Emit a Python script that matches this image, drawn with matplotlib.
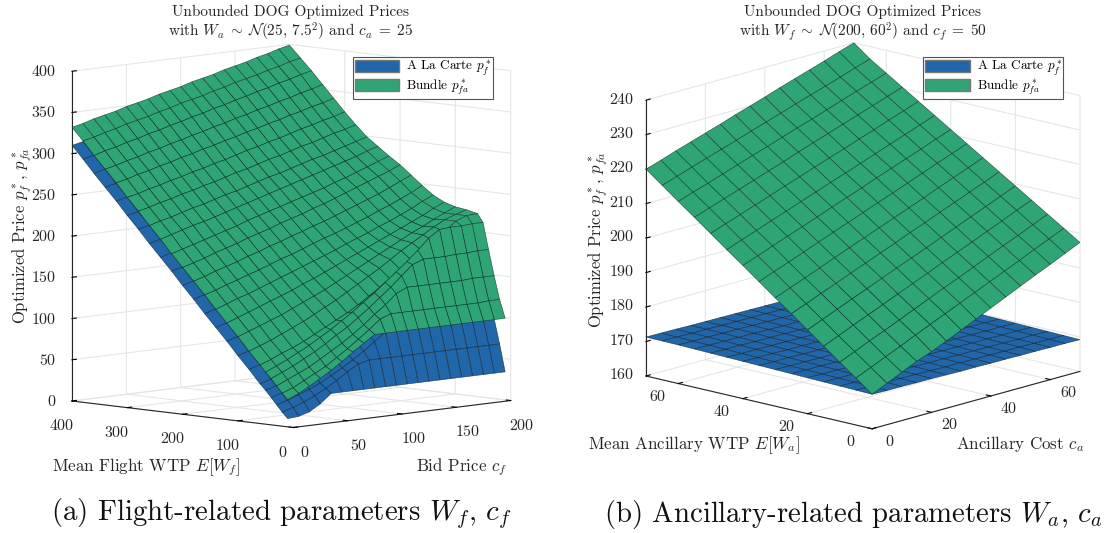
import numpy as np
import matplotlib
matplotlib.use("Agg")
import matplotlib.pyplot as plt
from matplotlib.patches import Patch
from mpl_toolkits.mplot3d import proj3d

plt.rcParams['font.family'] = ['cmr10', 'DejaVu Sans']
plt.rcParams['mathtext.fontset'] = 'cm'
plt.rcParams['axes.unicode_minus'] = False
plt.rcParams['axes.formatter.use_mathtext'] = True

BLUE = '#2166a8'
GREEN = '#2fa474'

wtp_f = [10,20,30,40,50,60,80,100,120,140,160,180,200,220,240,260,280,300,320,340,360,380,400]
bid_c = [0,10,20,30,40,50,60,70,80,90,100,110,120,130,140,150,160,170,180,190,200]

bundle_f = [
[33,39,46,54,62,71,81,90,99,99,99,99,99,99,99,99,99,99,99,99,99],
[40,45,52,59,66,75,84,94,104,115,120,120,120,120,120,120,120,120,120,121,121],
[48,54,60,66,74,82,90,99,109,120,130,142,148,148,148,148,148,148,149,149,149],
[56,62,68,75,82,90,99,107,117,127,138,149,161,173,178,178,178,179,179,180,180],
[63,69,75,82,89,97,105,114,123,133,143,154,165,176,188,201,210,211,211,212,212],
[71,76,82,87,93,100,107,114,121,129,138,147,155,164,174,184,195,205,216,221,222],
[86,91,96,102,108,114,121,128,135,143,151,159,167,176,185,193,201,209,216,221,225],
[102,107,112,117,122,128,134,140,146,153,160,167,174,181,188,195,202,208,215,221,227],
[117,122,127,132,137,142,147,153,158,164,170,176,182,188,194,200,206,212,218,225,231],
[132,137,142,146,151,156,161,166,171,176,181,186,192,197,202,208,213,219,225,232,238],
[148,152,157,161,166,170,175,180,184,189,194,199,203,208,213,218,224,229,235,241,248],
[163,167,172,176,180,185,189,194,198,203,207,212,216,221,226,231,236,241,247,253,259],
[178,182,186,191,195,199,204,208,212,217,221,225,230,234,239,244,249,254,259,264,270],
[193,197,201,205,209,213,217,222,226,230,234,238,242,246,250,255,259,264,269,274,279],
[209,213,217,221,224,228,232,236,240,244,248,252,256,260,264,268,272,276,280,285,289],
[224,228,231,235,239,242,246,250,253,257,261,265,268,272,276,280,283,287,291,295,299],
[240,243,247,250,254,257,261,264,268,272,275,279,283,286,290,294,297,301,305,308,312],
[255,258,262,265,269,272,276,279,283,286,290,294,297,301,304,308,312,315,319,322,326],
[271,274,278,281,285,288,292,295,299,302,306,309,313,316,320,323,327,330,334,337,341],
[286,289,293,296,300,303,307,310,314,317,321,324,328,331,335,338,342,345,349,352,356],
[301,305,308,312,315,319,322,326,329,333,336,340,343,347,350,354,357,361,364,368,371],
[317,320,324,327,331,334,337,341,344,348,351,354,358,361,365,368,371,375,378,382,385],
[332,335,339,342,345,349,352,355,359,362,365,369,372,375,379,382,385,389,392,396,399],
]

carte_f = [
[10,11,15,23,34,34,34,34,34,34,34,34,34,34,34,34,34,34,34,34,34],
[17,21,26,32,39,47,56,64,67,67,67,67,67,67,67,67,67,67,67,67,67],
[25,29,34,39,45,52,60,68,77,87,97,97,97,97,97,97,97,97,97,97,97],
[33,37,42,48,54,60,68,76,85,94,105,115,125,125,125,125,125,125,125,125,125],
[41,45,50,55,61,68,75,83,92,101,111,121,132,143,155,155,155,155,155,155,155],
[48,52,57,62,67,73,80,87,94,102,110,119,128,137,147,157,168,178,185,186,186],
[64,68,72,77,82,88,94,100,107,114,122,130,138,147,156,164,172,180,187,192,195],
[79,83,87,92,97,102,108,113,119,126,133,140,147,154,161,168,175,181,188,194,199],
[95,99,103,107,112,116,121,127,132,138,144,150,156,162,168,174,180,186,192,199,205],
[110,114,118,122,126,131,136,141,146,151,156,161,167,172,177,183,188,194,200,207,213],
[125,129,133,137,142,146,151,156,160,165,170,175,179,184,189,194,200,205,211,217,224],
[141,145,149,153,157,162,166,171,175,180,184,189,193,198,203,208,213,218,224,230,236],
[156,160,164,168,172,176,181,185,189,194,198,202,207,211,216,221,226,231,236,241,247],
[172,175,179,183,187,191,195,200,204,208,212,216,220,224,228,233,237,242,247,252,257],
[187,191,195,199,202,206,210,214,218,222,226,230,234,238,242,246,250,254,258,263,267],
[202,206,209,213,217,220,224,228,231,235,239,243,246,250,254,258,261,265,269,273,277],
[218,221,225,228,232,235,239,242,246,250,253,257,261,264,268,272,275,279,283,286,290],
[233,236,240,243,247,250,254,257,261,264,268,272,275,279,282,286,290,293,297,300,304],
[249,252,256,259,263,266,270,273,277,280,284,287,291,294,298,301,305,308,312,315,319],
[264,267,271,274,278,281,285,288,292,295,299,302,306,309,313,316,320,323,327,330,334],
[279,283,286,290,293,297,300,304,307,311,314,318,321,325,328,332,335,339,342,346,349],
[295,298,302,305,309,312,315,319,322,326,329,332,336,339,343,346,349,353,356,360,363],
[310,313,317,320,323,327,330,333,337,340,343,347,350,353,357,360,363,367,370,374,377],
]

wtp_a = [0,5,10,15,20,25,30,35,40,45,50,55,60,65,70]
cost_a = [0,5,10,15,20,25,30,35,40,45,50,55,60,65,70]

bundle_a = [
[170,172,174,176,177.6,179.5,181.5,183.5,185.5,187.5,189.5,191.5,193.4,195.4,197.4],
[173.6,175.5,177.4,179.3,181.3,183.2,185.1,187,188.9,190.8,192.7,194.6,196.6,198.5,200.4],
[177.1,179,180.9,182.7,184.6,186.5,188.4,190.3,192.1,194,195.9,197.8,199.6,201.5,203.4],
[180.7,182.5,184.4,186.2,188,189.9,191.7,193.5,195.4,197.2,199,200.9,202.7,204.6,206.4],
[184.3,186.1,187.9,189.7,191.5,193.3,195.1,196.8,198.6,200.4,202.2,204,205.8,207.6,209.4],
[187.9,189.6,191.4,193.1,194.9,196.6,198.4,200.1,201.9,203.6,205.4,207.1,208.9,210.6,212.4],
[191.4,193.1,194.8,196.5,198.3,200,201.7,203.4,205.1,206.8,208.5,210.3,212,213.7,215.4],
[195,196.7,198.3,200,201.7,203.4,205,206.7,208.4,210,211.7,213.4,215.1,216.7,218.4],
[198.6,200.2,201.9,203.5,205.1,206.7,208.4,210,211.6,213.3,214.9,216.5,218.1,219.8,221.4],
[202.1,203.7,205.3,206.9,208.5,210.1,211.7,213.3,214.8,216.4,218,219.6,221.2,222.8,224.4],
[205.7,207.3,208.8,210.4,211.9,213.5,215,216.6,218.1,219.6,221.2,222.7,224.3,225.8,227.4],
[209.3,210.8,212.3,213.8,215.3,216.8,218.3,219.9,221.4,222.9,224.4,225.9,227.4,228.9,230.4],
[212.8,214.3,215.7,217.2,218.7,220.2,221.6,223.1,224.6,226,227.5,229,230.5,231.9,233.4],
[216.4,217.8,219.3,220.7,222.1,223.5,225,226.4,227.8,229.3,230.7,232.1,233.5,235,236.4],
[220,221.4,222.9,224.3,225.7,227.1,228.6,230,231.4,232.9,234.3,235.7,237.1,238.6,240],
]

carte_a = [
[170,169.9,169.9,169.8,169.8,169.7,169.6,169.6,169.5,169.5,169.4,169.4,169.3,169.3,169.2],
[170.1,170,170,169.9,169.9,169.8,169.7,169.7,169.6,169.6,169.5,169.5,169.4,169.4,169.3],
[170.2,170.1,170.1,170,170,169.9,169.8,169.8,169.7,169.7,169.6,169.6,169.5,169.5,169.4],
[170.3,170.2,170.2,170.1,170.1,170,169.9,169.9,169.8,169.8,169.7,169.7,169.6,169.6,169.5],
[170.4,170.3,170.3,170.2,170.2,170.1,170,170,169.9,169.9,169.8,169.8,169.7,169.7,169.6],
[170.5,170.4,170.4,170.3,170.3,170.2,170.1,170.1,170,170,169.9,169.9,169.8,169.8,169.7],
[170.6,170.5,170.5,170.4,170.4,170.3,170.2,170.2,170.1,170.1,170,170,169.9,169.9,169.8],
[170.7,170.6,170.6,170.5,170.5,170.4,170.3,170.3,170.2,170.2,170.1,170.1,170,170,169.9],
[170.8,170.7,170.7,170.6,170.6,170.5,170.4,170.4,170.3,170.3,170.2,170.2,170.1,170.1,170],
[170.9,170.8,170.8,170.7,170.7,170.6,170.5,170.5,170.4,170.4,170.3,170.3,170.2,170.2,170.1],
[171,170.9,170.9,170.8,170.8,170.7,170.6,170.6,170.5,170.5,170.4,170.4,170.3,170.3,170.2],
[171.1,171,171,170.9,170.9,170.8,170.7,170.7,170.6,170.6,170.5,170.5,170.4,170.4,170.3],
[171.2,171.1,171.1,171,171,170.9,170.8,170.8,170.7,170.7,170.6,170.6,170.5,170.5,170.4],
[171.25,171.2,171.1,171.05,171,170.95,170.9,170.85,170.8,170.75,170.7,170.65,170.6,170.55,170.45],
[171.3,171.25,171.2,171.1,171.05,171,170.95,170.9,170.85,170.8,170.75,170.7,170.65,170.6,170.5],
]

W_PX, H_PX = 1106, 533
fig = plt.figure(figsize=(W_PX/100, H_PX/100), dpi=100)


def fx(x):
    return x / W_PX


def fy(y):
    return 1 - y / H_PX


def to_px(ax, x, y, z):
    X, Y, _ = proj3d.proj_transform(x, y, z, ax.get_proj())
    return ax.transData.transform((X, Y))


def nudge_labels(ax, labels, dx_px, dy_px):
    m = ax.transData.get_matrix()
    dx, dy = dx_px / m[0, 0], dy_px / m[1, 1]
    for lab in labels:
        base = lab.set_position
        def moved(xy, base=base):
            base((xy[0] + dx, xy[1] + dy))
        lab.set_position = moved


def panel(rect_side, xs, ys, bundle, carte, xlim, ylim, zlim, xticks, yticks, zticks,
          elev, azim, height, left_t, right_t, title, title_xy, xlabel, xlabel_xy,
          ylabel, ylabel_xy, zlabel_xy, legend_xy, pads, nudges):
    ax = fig.add_axes([fx(100), 0.05, rect_side/W_PX, rect_side/H_PX], projection='3d', proj_type='ortho')
    ax.computed_zorder = False
    ax.view_init(elev=elev, azim=azim)
    ax.set_xlim(*xlim, view_margin=0)
    ax.set_ylim(*ylim, view_margin=0)
    ax.set_zlim(*zlim, view_margin=0)
    ax.set_xticks(xticks)
    ax.set_yticks(yticks)
    ax.set_zticks(zticks)
    ax.set_box_aspect((1, 1, height), zoom=1)
    ax.apply_aspect()
    p0 = to_px(ax, xlim[0], ylim[1], zlim[0])
    p1 = to_px(ax, xlim[1], ylim[0], zlim[0])
    zoom = (right_t[0] - left_t[0]) / (p1[0] - p0[0])
    ax.set_box_aspect((1, 1, height), zoom=zoom)
    ax.apply_aspect()
    p0 = to_px(ax, xlim[0], ylim[1], zlim[0])
    dx = left_t[0] - p0[0]
    dy = (H_PX - left_t[1]) - p0[1]
    pos = ax.get_position()
    ax.set_position([pos.x0 + dx/W_PX, pos.y0 + dy/H_PX, pos.width, pos.height])
    ax.apply_aspect()

    X, Y = np.meshgrid(ys, xs)
    s1 = ax.plot_surface(X, Y, np.array(carte), color=BLUE, shade=False, rstride=1, cstride=1,
                         edgecolor=(0.05, 0.1, 0.15, 0.7), linewidth=0.45, zorder=2, antialiased=True)
    s2 = ax.plot_surface(X, Y, np.array(bundle), color=GREEN, shade=False, rstride=1, cstride=1,
                         edgecolor=(0.05, 0.15, 0.12, 0.7), linewidth=0.45, zorder=3, antialiased=True)
    s1.set_clip_on(False)
    s2.set_clip_on(False)

    for axis in (ax.xaxis, ax.yaxis, ax.zaxis):
        axis.set_pane_color((1, 1, 1, 0))
        axis.pane.set_edgecolor('#e4e4e4')
        axis._axinfo['grid'].update(color='#e6e6e6', linewidth=0.8)
        axis._axinfo['axisline']['color'] = '#262626'
        axis._axinfo['tick'].update(inward_factor=0.0, outward_factor=0.25, linewidth={True: 0.8, False: 0.5}, color='#262626')
        axis.line.set_color('#262626')
        axis.line.set_linewidth(0.8)
    ax.tick_params(axis='both', labelsize=11.5, labelcolor='#262626')
    ax.tick_params(axis='x', pad=pads[0])
    ax.tick_params(axis='y', pad=pads[1])
    ax.tick_params(axis='z', pad=pads[2])
    zlabels = ax.get_zticklabels()
    for lab in zlabels:
        lab.set_ha('right')
    nudge_labels(ax, ax.get_xticklabels(), *nudges[0])
    nudge_labels(ax, ax.get_yticklabels(), *nudges[1])
    nudge_labels(ax, zlabels, *nudges[2])

    t = ax.set_title(title, fontsize=11, y=1.0, linespacing=1.1, color='#262626')
    t.set_transform(fig.transFigure)
    t.set_position((fx(title_xy[0]), fy(title_xy[1])))
    t.set_va('center')
    fig.text(fx(xlabel_xy[0]), fy(xlabel_xy[1]), xlabel, ha='center', va='center', fontsize=12.2, color='#262626')
    fig.text(fx(ylabel_xy[0]), fy(ylabel_xy[1]), ylabel, ha='center', va='center', fontsize=12.2, color='#262626')
    fig.text(fx(zlabel_xy[0]), fy(zlabel_xy[1]), r"Optimized Price $p_f^*$, $p_{fa}^*$", ha='center', va='center',
             rotation=90, fontsize=12, color='#262626')
    handles = [Patch(facecolor=BLUE, edgecolor='#777777', label=r"A La Carte $p_f^*$"),
               Patch(facecolor=GREEN, edgecolor='#777777', label=r"Bundle $p_{fa}^*$")]
    leg = ax.legend(handles=handles, loc='upper left', bbox_to_anchor=(fx(legend_xy[0]), fy(legend_xy[1])),
                    bbox_transform=fig.transFigure, fontsize=9.5, fancybox=False, framealpha=1,
                    edgecolor='#555555', handlelength=3.4, handleheight=1.0, borderpad=0.12,
                    labelspacing=0.0, handletextpad=0.5, borderaxespad=0)
    leg.get_frame().set_linewidth(0.8)
    leg.set_zorder(20)
    return ax


panel(420, wtp_f, bid_c, bundle_f, carte_f, (0, 200), (0, 400), (0, 400),
      [0, 50, 100, 150, 200], [0, 100, 200, 300, 400], list(range(0, 401, 50)),
      7.0, -135.5, 332/310, (72, 401), (510.7, 401),
      "Unbounded DOG Optimized Prices\n" + r"with $W_a\;\sim\;\mathcal{N}(25,\,7.5^2)$ and $c_a\;=\;25$", (291, 24),
      r"Mean Flight WTP $E[W_f]$", (146, 467), r"Bid Price $c_f$", (462, 467), (22, 236), (353, 57), (-2, -2, 4),
      ((3, -3.5), (-2, -3.5), (18, 7)))

panel(420, wtp_a, cost_a, bundle_a, carte_a, (0, 70), (0, 70), (160, 240),
      [0, 20, 40, 60], [0, 20, 40, 60], list(range(160, 241, 10)),
      14.7, -137.4, 285/307, (646, 376), (1080, 372),
      "Unbounded DOG Optimized Prices\n" + r"with $W_f\;\sim\;\mathcal{N}(200,\,60^2)$ and $c_f\;=\;50$", (863, 24),
      r"Mean Ancillary WTP $E[W_a]$", (694, 445), r"Ancillary Cost $c_a$", (1020, 444), (598, 240), (923.5, 57), (-8, -8, 4),
      ((18, -5), (-21, -5), (21, 9)))

fig.text(fx(281), fy(514), r"(a) Flight-related parameters $W_f$, $c_f$", ha='center', va='center', fontsize=20.8, color='#111111')
fig.text(fx(853), fy(514), r"(b) Ancillary-related parameters $W_a$, $c_a$", ha='center', va='center', fontsize=20.7, color='#111111')

fig.savefig('out.png', dpi=100)
